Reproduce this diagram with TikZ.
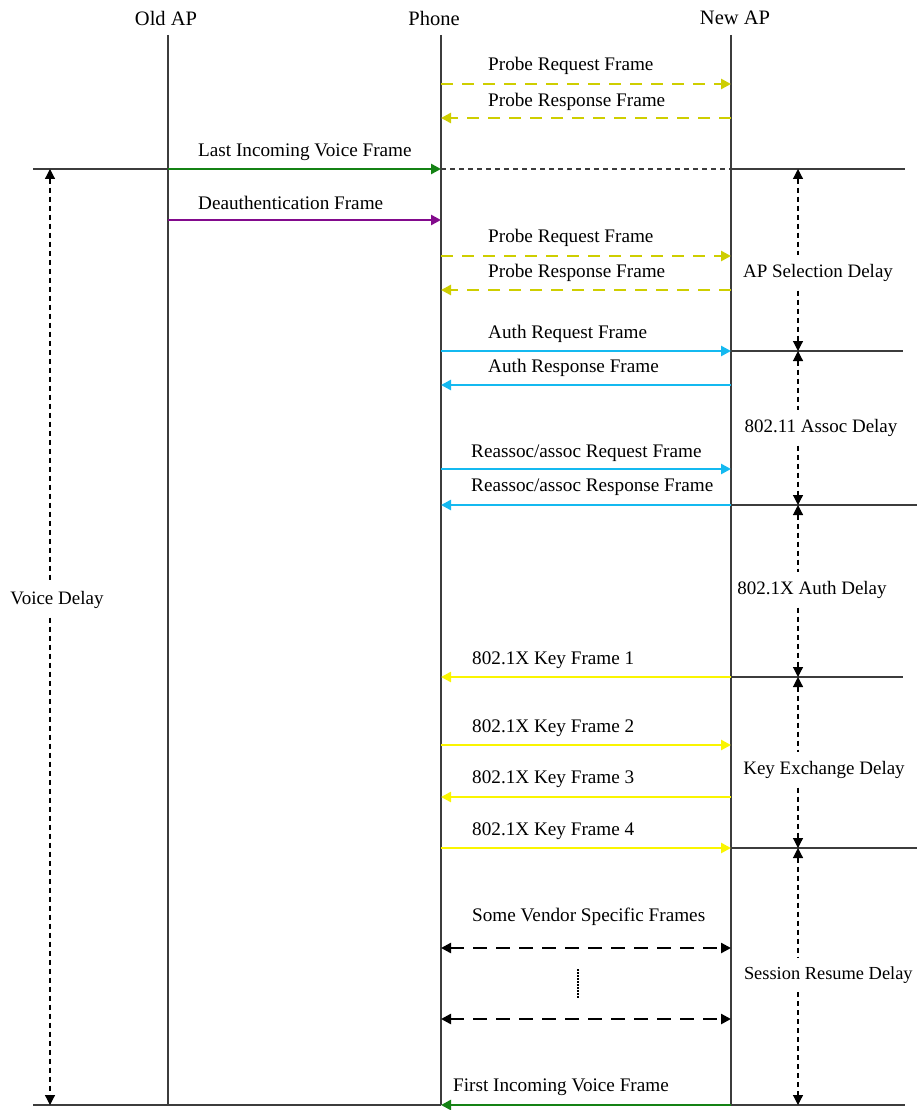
\documentclass[tikz,border=0pt]{standalone}
\usepackage{fontspec}
\setmainfont{Liberation Serif}
\usetikzlibrary{arrows.meta}
\definecolor{probec}{RGB}{206,206,0}
\definecolor{cyanc}{RGB}{20,185,240}
\definecolor{yellowc}{RGB}{250,245,0}
\definecolor{greenc}{RGB}{20,130,20}
\definecolor{purplec}{RGB}{130,10,140}
\definecolor{rulec}{RGB}{60,60,60}
\tikzset{
  lbl/.style={anchor=west, inner sep=0pt, font=\fontsize{19.2}{21}\selectfont},
  hdr/.style={inner sep=0pt, font=\fontsize{20.5}{22}\selectfont},
  dlbl/.style={inner sep=0pt, outer sep=9pt, font=\fontsize{19}{21}\selectfont},
  life/.style={draw=rulec, line width=1.3pt},
  rulel/.style={draw=rulec, line width=1.3pt},
  msg/.style={line width=2.7pt, -{Triangle[length=10pt,width=10pt]}},
  probe/.style={msg, draw=probec, dash pattern=on 12pt off 9pt},
  frame/.style={msg, draw=#1},
  bidash/.style={line width=2.4pt, draw=black, dash pattern=on 14pt off 9pt,
    {Triangle[length=10pt,width=10pt]}-{Triangle[length=10pt,width=10pt]}},
  delay/.style={draw=black, line width=1.2pt, dash pattern=on 5pt off 4pt},
  dtip/.tip={Triangle[length=10pt,width=10pt]},
}
\begin{document}
\begin{tikzpicture}[x=1pt,y=-1pt]
\useasboundingbox (0,0) rectangle (917,1110);
% headers
\node[hdr] (old) at (166,18) {Old AP};
\node[hdr] (phone) at (434,18) {Phone};
\node[hdr] (new) at (735,18) {New AP};
% lifeline coordinates
\coordinate (Ot) at (168,35); \coordinate (Ob) at (168,1105);
\coordinate (Pt) at (441,35); \coordinate (Pb) at (441,1105);
\coordinate (Nt) at (731,35); \coordinate (Nb) at (731,1105);
\draw[life] (Ot) -- (Ob);
\draw[life] (Pt) -- (Pb);
\draw[life] (Nt) -- (Nb);
% message end points
\foreach \y in {84,118,256,290,351,385,469,505,677,745,797,848,948,1019,1105} {
  \coordinate (P\y) at (441,\y);
  \coordinate (N\y) at (731,\y);
}
\coordinate (O169) at (168,169); \coordinate (P169) at (441,169); \coordinate (N169) at (731,169);
\coordinate (O220) at (168,220); \coordinate (P220) at (441,220);
% horizontal rules
\coordinate (L169) at (33,169); \coordinate (R169) at (905,169);
\coordinate (L1105) at (33,1105); \coordinate (R1105) at (905,1105);
\coordinate (R351) at (903,351); \coordinate (R505) at (917,505);
\coordinate (R677) at (903,677); \coordinate (R848) at (917,848);
\draw[rulel] (L169) -- (O169);
\draw[rulel, dash pattern=on 5pt off 4pt] (P169) -- (N169);
\draw[rulel] (N169) -- (R169);
\draw[rulel] (L1105) -- (P1105);
\draw[rulel] (N1105) -- (R1105);
\draw[rulel] (N351) -- (R351);
\draw[rulel] (N505) -- (R505);
\draw[rulel] (N677) -- (R677);
\draw[rulel] (N848) -- (R848);
% messages
\node[lbl] (m1) at (488,66) {Probe Request Frame};
\draw[probe] (P84) -- (N84);
\node[lbl] (m2) at (488,102) {Probe Response Frame};
\draw[probe] (N118) -- (P118);
\node[lbl] (m3) at (198,152) {Last Incoming Voice Frame};
\draw[frame=greenc] (O169) -- (P169);
\node[lbl] (m4) at (198,203) {Deauthentication Frame};
\draw[frame=purplec] (O220) -- (P220);
\node[lbl] (m5) at (488,238) {Probe Request Frame};
\draw[probe] (P256) -- (N256);
\node[lbl] (m6) at (488,273) {Probe Response Frame};
\draw[probe] (N290) -- (P290);
\node[lbl] (m7) at (488,334) {Auth Request Frame};
\draw[frame=cyanc] (P351) -- (N351);
\node[lbl] (m8) at (488,368) {Auth Response Frame};
\draw[frame=cyanc] (N385) -- (P385);
\node[lbl] (m9) at (471,453) {Reassoc/assoc Request Frame};
\draw[frame=cyanc] (P469) -- (N469);
\node[lbl] (m10) at (471,487) {Reassoc/assoc Response Frame};
\draw[frame=cyanc] (N505) -- (P505);
\node[lbl] (m11) at (472,660) {802.1X Key Frame 1};
\draw[frame=yellowc] (N677) -- (P677);
\node[lbl] (m12) at (472,728) {802.1X Key Frame 2};
\draw[frame=yellowc] (P745) -- (N745);
\node[lbl] (m13) at (472,779) {802.1X Key Frame 3};
\draw[frame=yellowc] (N797) -- (P797);
\node[lbl] (m14) at (472,831) {802.1X Key Frame 4};
\draw[frame=yellowc] (P848) -- (N848);
\node[lbl] (m15) at (472,917) {Some Vendor Specific Frames};
\draw[bidash] (P948) -- (N948);
\draw[bidash] (P1019) -- (N1019);
\coordinate (dt) at (578,969); \coordinate (db) at (578,998);
\draw[line width=1.4pt, dash pattern=on 1.5pt off 1.5pt] (dt) -- (db);
\node[lbl] (m16) at (453,1087) {First Incoming Voice Frame};
\draw[frame=greenc] (N1105) -- (P1105);
% delay markers
\coordinate (D169) at (798,169); \coordinate (D351) at (798,351);
\coordinate (D505) at (798,505); \coordinate (D677) at (798,677);
\coordinate (D848) at (798,848); \coordinate (D1105) at (798,1105);
\node[dlbl] (d1) at (818,273) {AP Selection Delay};
\node[dlbl] (d2) at (821,428) {802.11 Assoc Delay};
\node[dlbl] (d3) at (812,590) {802.1X Auth Delay};
\node[dlbl] (d4) at (824,770) {Key Exchange Delay};
\node[dlbl, font=\fontsize{18.4}{20}\selectfont, anchor=west] (d5) at (735,975) {Session Resume Delay};
\draw[delay, {dtip}-] (D169) -- (D169 |- d1.north);
\draw[delay, -{dtip}] (D169 |- d1.south) -- (D351);
\draw[delay, {dtip}-] (D351) -- (D351 |- d2.north);
\draw[delay, -{dtip}] (D351 |- d2.south) -- (D505);
\draw[delay, {dtip}-] (D505) -- (D505 |- d3.north);
\draw[delay, -{dtip}] (D505 |- d3.south) -- (D677);
\draw[delay, {dtip}-] (D677) -- (D677 |- d4.north);
\draw[delay, -{dtip}] (D677 |- d4.south) -- (D848);
\draw[delay, {dtip}-] (D848) -- (D848 |- d5.north);
\draw[delay, -{dtip}] (D848 |- d5.south) -- (D1105);
% voice delay
\coordinate (V169) at (50,169); \coordinate (V1105) at (50,1105);
\node[dlbl] (vd) at (57,600) {Voice Delay};
\draw[delay, {dtip}-] (V169) -- (V169 |- vd.north);
\draw[delay, -{dtip}] (V169 |- vd.south) -- (V1105);
\end{tikzpicture}
\end{document}
